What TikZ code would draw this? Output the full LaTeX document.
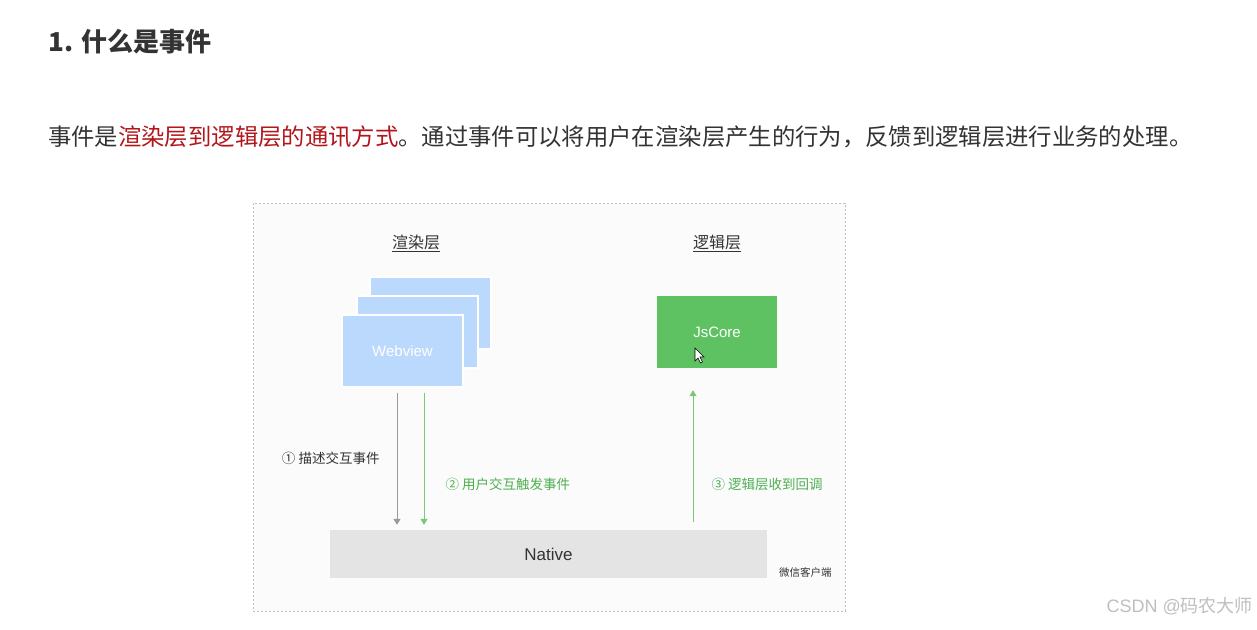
\documentclass[tikz,border=0pt]{standalone}
\usepackage{fontspec}
\setmainfont{Liberation Sans}
\newfontfamily\cjk{Noto Sans CJK SC}
\usetikzlibrary{arrows.meta,calc,positioning}
\definecolor{evblue}{RGB}{187,217,252}
\definecolor{evgreen}{RGB}{94,194,99}
\definecolor{evlabel}{RGB}{76,175,80}
\definecolor{evline}{RGB}{120,200,120}
\definecolor{evgray}{RGB}{228,228,228}
\definecolor{evred}{RGB}{178,22,26}
\definecolor{evtext}{RGB}{51,51,51}
\definecolor{evframe}{RGB}{190,190,190}

\begin{document}
\begin{tikzpicture}[x=1pt,y=-1pt,>={Triangle[length=6pt,width=7pt]},
    every node/.style={inner sep=0pt,text=evtext},
    layer/.style={font=\cjk\fontsize{16}{18}\selectfont},
    webbox/.style={fill=evblue,draw=white,line width=1.5pt,minimum width=121pt,minimum height=72pt},
    step label/.style={font=\cjk\fontsize{13.5}{16}\selectfont}]
  \useasboundingbox[fill=white] (0,0) rectangle (1257,629);
  % heading and intro line
  \node[anchor=west,font=\cjk\bfseries\fontsize{26}{30}\selectfont,text=black!80] (title) at (48,42) {1. 什么是事件};
  \node[anchor=west,font=\cjk\fontsize{23.35}{28}\selectfont] (intro) at (48,137)
    {事件是\textcolor{evred}{渲染层到逻辑层的通讯方式}。通过事件可以将用户在渲染层产生的行为，反馈到逻辑层进行业务的处理。};
  % dashed frame
  \node[draw=evframe,dash pattern=on 2pt off 2pt,fill=gray!3,minimum width=592pt,minimum height=408pt] (client) at (549,407) {};
  \node[layer] (render) at (416,243) {\underline{渲染层}};
  \node[layer] (logic) at (717,243) {\underline{逻辑层}};
  % webview stack
  \node[webbox] (web3) at (430.5,313) {};
  \node[webbox] (web2) at (417.5,332) {};
  \node[webbox,text=white,font=\fontsize{15}{18}\selectfont] (web) at (402.5,351) {Webview};
  \node[fill=evgreen,minimum width=120pt,minimum height=72pt,text=white,font=\fontsize{15}{18}\selectfont] (jscore) at (717,332) {JsCore};
  \draw[fill=white,line width=0.6pt] (695,348) -- (695,361) -- (698,358) -- (700.5,363) -- (702.5,362) -- (700,357) -- (704,357) -- cycle;
  \node[fill=evgray,minimum width=437pt,minimum height=48pt,font=\fontsize{17}{20}\selectfont] (native) at (548.5,554) {Native};
  \node[anchor=west,font=\cjk\fontsize{10.5}{12}\selectfont] (wechat) at (779,572) {微信客户端};
  % connectors
  \coordinate (desc) at (397,0);
  \coordinate (touch) at (424,0);
  \coordinate (back) at (693,0);
  \draw[->,gray!80,line width=1pt,shorten <=5pt,shorten >=5pt] (web.south -| desc) -- (native.north -| desc)
    node[step label,pos=.5,left=17pt] {① 描述交互事件};
  \draw[->,evline,line width=1pt,shorten <=5pt,shorten >=5pt] (web.south -| touch) -- (native.north -| touch)
    node[step label,text=evlabel,pos=.68,right=21pt] {② 用户交互触发事件};
  \draw[->,evline,line width=1pt,shorten <=8pt,shorten >=22pt] (native.north -| back) -- (jscore.south -| back)
    node[step label,text=evlabel,pos=.28,right=18pt] {③ 逻辑层收到回调};
  % watermark
  \node[anchor=east,text=gray!50,font=\fontsize{18}{20}\selectfont] (mark) at (1253,606) {CSDN @{\cjk 码农大师}};
\end{tikzpicture}
\end{document}
